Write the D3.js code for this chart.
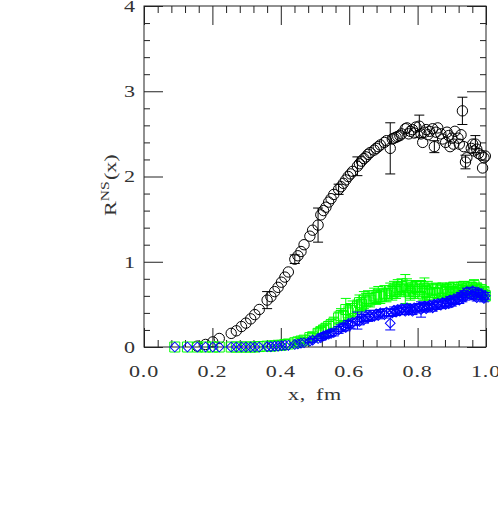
<!DOCTYPE html>
<html><head><meta charset="utf-8">
<script src="https://cdn.jsdelivr.net/npm/d3@7"></script>
<style>html,body{margin:0;padding:0;background:#fff;} svg{display:block;}</style>
</head><body>
<svg id="c" width="498" height="527"></svg>
<script>
// ---------- data ----------
const xMajorTicks = [0.0, 0.2, 0.4, 0.6, 0.8, 1.0];
const xTickLabels = ["0.0", "0.2", "0.4", "0.6", "0.8", "1.0"];
const xMinorTicks = [0.04,0.08,0.12,0.16,0.24,0.28,0.32,0.36,0.44,0.48,0.52,0.56,0.64,0.68,0.72,0.76,0.84,0.88,0.92,0.96];
const yMajorTicks = [0, 1, 2, 3, 4];
const yTickLabels = ["0", "1", "2", "3", "4"];
const yMinorTicks = [0.2,0.4,0.6,0.8,1.2,1.4,1.6,1.8,2.2,2.4,2.6,2.8,3.2,3.4,3.6,3.8];

const distX = [0.090,0.127,0.156,0.180,0.201,0.220,0.255,0.270,0.285,0.298,0.312,0.324,0.337,0.360,0.371,0.382,0.392,0.402,0.412,0.422,
  0.441,0.450,0.459,0.468,0.485,0.493,0.509,0.517,0.525,0.532,0.540,0.547,0.555,0.569,0.576,0.583,0.590,0.597,0.604,0.610,
  0.624,0.630,0.636,0.643,0.649,0.655,0.661,0.673,0.679,0.685,0.691,0.703,0.709,0.720,0.726,0.731,0.737,0.742,0.748,0.753,
  0.764,0.769,0.774,0.779,0.785,0.790,0.795,0.805,0.810,0.815,0.820,0.825,0.830,0.835,0.844,0.849,0.854,0.859,0.868,0.873,
  0.882,0.886,0.891,0.895,0.900,0.905,0.909,0.918,0.922,0.927,0.931,0.935,0.940,0.944,0.957,0.961,0.965,0.969,0.973,0.978,
  0.986,0.990,0.994,0.998];

const blackX = distX.slice(2);
const blackY = [0.01,0.03,0.06,0.10,0.16,0.19,0.24,0.28,0.33,0.38,0.44,0.55,0.59,0.65,0.70,0.76,0.82,0.88,
  1.03,1.07,1.12,1.20,1.30,1.37,1.43,1.55,1.60,1.64,1.70,1.74,1.79,1.85,1.88,1.92,1.96,2.00,2.03,2.06,
  2.12,2.15,2.18,2.21,2.23,2.26,2.28,2.31,2.33,2.35,2.37,2.40,2.42,2.33,2.44,2.45,2.46,2.47,2.48,2.50,
  2.56,2.57,2.50,2.53,2.55,2.51,2.58,2.59,2.50,2.40,2.52,2.55,2.49,2.53,2.56,2.35,2.52,2.57,2.50,2.44,
  2.40,2.52,2.48,2.35,2.45,2.38,2.53,2.45,2.38,2.49,2.77,2.35,2.17,2.22,2.33,2.38,2.30,2.38,2.32,2.27,
  2.25,2.10,2.22,2.24];
const blackErr = [0,0,0,0,0,0,0,0,0,0,0,0.10,0,0,0,0,0,0,
  0.05,0,0,0,0,0,0.20,0,0,0,0,0,0,0.06,0,0,0,0,0,0,
  0.11,0,0,0,0,0,0,0,0,0,0,0,0,0.30,0,0,0,0,0,0,
  0,0,0,0,0,0,0,0.13,0,0,0,0,0,0,0,0.07,0,0,0,0,
  0,0,0,0,0,0,0,0,0,0,0.16,0,0.08,0,0,0,0,0.10,0,0,
  0,0,0,0];

const greenX = distX;
const greenY = [0,0,0,0,0,0,0,0,0,0,0,0,0.005,0.01,0.01,0.015,0.02,0.02,0.03,0.035,
  0.05,0.06,0.07,0.08,0.11,0.12,0.16,0.18,0.20,0.22,0.24,0.26,0.28,0.34,0.37,0.36,0.44,0.40,0.43,0.45,
  0.47,0.52,0.50,0.55,0.53,0.57,0.55,0.60,0.58,0.62,0.59,0.63,0.61,0.66,0.63,0.68,0.65,0.70,0.67,0.71,
  0.68,0.72,0.66,0.63,0.69,0.65,0.71,0.67,0.71,0.63,0.68,0.65,0.69,0.62,0.67,0.64,0.68,0.63,0.66,0.69,
  0.64,0.67,0.62,0.68,0.65,0.70,0.63,0.67,0.64,0.69,0.66,0.71,0.65,0.68,0.70,0.66,0.72,0.67,0.69,0.64,
  0.67,0.62,0.65,0.60];
const greenErr = [0,0,0,0,0,0,0,0,0,0,0,0,0,0,0,0,0,0,0,0,
  0.02,0.02,0.03,0.03,0.03,0.04,0.04,0.05,0.05,0.05,0.06,0.06,0.07,0.07,0.08,0.07,0.13,0.08,0.08,0.09,
  0.08,0.09,0.08,0.10,0.10,0.09,0.08,0.09,0.08,0.09,0.08,0.09,0.08,0.09,0.08,0.09,0.08,0.09,0.08,0.09,
  0.17,0.08,0.07,0.08,0.07,0.08,0.07,0.08,0.07,0.08,0.13,0.07,0.08,0.07,0.07,0.06,0.07,0.06,0.07,0.06,
  0.07,0.06,0.06,0.07,0.06,0.06,0.07,0.06,0.06,0.07,0.06,0.06,0.07,0.06,0.06,0.06,0.07,0.06,0.06,0.06,
  0.06,0.06,0.05,0.06];

const blueX = distX;
const blueY = [0,0,0,0,0,0,0,0,0,0,0,0,0,0.005,0.005,0.01,0.01,0.015,0.02,0.02,
  0.03,0.035,0.045,0.05,0.07,0.08,0.10,0.11,0.13,0.14,0.15,0.16,0.17,0.20,0.22,0.24,0.23,0.27,0.26,0.29,
  0.31,0.30,0.34,0.32,0.36,0.34,0.37,0.36,0.39,0.37,0.40,0.38,0.41,0.28,0.40,0.43,0.41,0.44,0.42,0.45,
  0.42,0.46,0.43,0.45,0.42,0.46,0.44,0.47,0.44,0.46,0.48,0.45,0.47,0.49,0.46,0.50,0.48,0.51,0.49,0.52,
  0.50,0.53,0.51,0.55,0.52,0.56,0.54,0.58,0.55,0.60,0.57,0.62,0.59,0.65,0.61,0.66,0.60,0.63,0.58,0.64,
  0.62,0.60,0.57,0.60];
const blueErr = [0,0,0,0,0,0,0,0,0,0,0,0,0,0,0,0,0,0,0,0,
  0,0,0,0,0.02,0.02,0.02,0.03,0.03,0.03,0.03,0.03,0.04,0.04,0.04,0.04,0.04,0.04,0.04,0.04,
  0.10,0.04,0.04,0.04,0.05,0.04,0.06,0.04,0.04,0.04,0.04,0.04,0.04,0.08,0.04,0.04,0.04,0.04,0.04,0.04,
  0.04,0.04,0.04,0.04,0.04,0.04,0.04,0.04,0.09,0.04,0.04,0.04,0.04,0.04,0.04,0.04,0.04,0.04,0.04,0.04,
  0.04,0.04,0.04,0.04,0.04,0.04,0.04,0.04,0.04,0.04,0.04,0.04,0.04,0.04,0.04,0.04,0.04,0.04,0.04,0.04,
  0.04,0.04,0.04,0.04];

// ---------- layout ----------
const W = 498, H = 527;
const L = 144, R = 486, T = 6, B = 347;
const FONT = "'Liberation Serif', 'Times New Roman', serif";
const SX = 1.3; // horizontal stretch of the plotting font
const TXT = "#333";

const svg = d3.select("#c");
svg.append("rect").attr("width", W).attr("height", H).attr("fill", "#fff");

const x = d3.scaleLinear().domain([0, 1]).range([L, R]);
const y = d3.scaleLinear().domain([0, 4]).range([B, T]);

const axisColor = "#222";
function styleAxis(g) {
  g.select(".domain").remove();
  g.selectAll(".tick line").attr("stroke", axisColor).attr("stroke-width", 1);
  g.selectAll(".tick text").remove();
}
// inward ticks on all four sides
svg.append("g").attr("transform", `translate(0,${B})`)
  .call(d3.axisBottom(x).tickValues(xMajorTicks).tickSize(-19)).call(styleAxis);
svg.append("g").attr("transform", `translate(0,${B})`)
  .call(d3.axisBottom(x).tickValues(xMinorTicks).tickSize(-7)).call(styleAxis);
svg.append("g").attr("transform", `translate(0,${T})`)
  .call(d3.axisTop(x).tickValues(xMajorTicks).tickSize(-19)).call(styleAxis);
svg.append("g").attr("transform", `translate(0,${T})`)
  .call(d3.axisTop(x).tickValues(xMinorTicks).tickSize(-7)).call(styleAxis);
svg.append("g").attr("transform", `translate(${L},0)`)
  .call(d3.axisLeft(y).tickValues(yMajorTicks).tickSize(-19)).call(styleAxis);
svg.append("g").attr("transform", `translate(${L},0)`)
  .call(d3.axisLeft(y).tickValues(yMinorTicks).tickSize(-6)).call(styleAxis);
svg.append("g").attr("transform", `translate(${R},0)`)
  .call(d3.axisRight(y).tickValues(yMajorTicks).tickSize(-19)).call(styleAxis);
svg.append("g").attr("transform", `translate(${R},0)`)
  .call(d3.axisRight(y).tickValues(yMinorTicks).tickSize(-6)).call(styleAxis);

svg.append("rect").attr("x", L).attr("y", T).attr("width", R - L).attr("height", B - T)
  .attr("fill", "none").attr("stroke", axisColor).attr("stroke-width", 1);

// tick labels (stretched serif to mimic the plotting font)
svg.append("g").selectAll("text").data(xMajorTicks).join("text")
  .attr("transform", d => `translate(${x(d)},377) scale(${SX},1)`)
  .attr("text-anchor", "middle").attr("font-family", FONT).attr("font-size", 17)
  .attr("letter-spacing", "0.6px").attr("fill", TXT)
  .text((d, i) => xTickLabels[i]);
svg.append("g").selectAll("text").data(yMajorTicks).join("text")
  .attr("transform", d => `translate(135,${y(d) + 5.8}) scale(${SX},1)`)
  .attr("text-anchor", "end").attr("font-family", FONT).attr("font-size", 17).attr("fill", TXT)
  .text((d, i) => yTickLabels[i]);

// axis titles
svg.append("text").attr("transform", `translate(315,400) scale(${SX},1)`).attr("text-anchor", "middle")
  .attr("font-family", FONT).attr("font-size", 17).attr("letter-spacing", "0.5px")
  .attr("word-spacing", "3px").attr("fill", TXT).text("x, fm");

const yl = svg.append("text").attr("transform", `translate(116,216) rotate(-90) scale(${SX},1)`)
  .attr("font-family", FONT).attr("font-size", 17).attr("fill", TXT);
yl.append("tspan").text("R");
yl.append("tspan").attr("dy", -7).attr("font-size", 12).text("NS");
yl.append("tspan").attr("dy", 7).attr("dx", 1).text("(x)");

// ---------- series ----------
function drawSeries(xs, ys, es, color, shape) {
  const data = xs.map((v, i) => ({x: v, y: ys[i], e: es[i]}));
  const g = svg.append("g").attr("fill", "none").attr("stroke", color).attr("stroke-width", 1);
  const eb = data.filter(d => d.e > 0);
  g.selectAll("path.err").data(eb).join("path").attr("class", "err")
    .attr("d", d => {
      const cx = x(d.x), y1 = y(d.y - d.e), y2 = y(d.y + d.e);
      return `M${cx},${y1}V${y2}M${cx - 5},${y1}H${cx + 5}M${cx - 5},${y2}H${cx + 5}`;
    });
  const sym = d3.symbol().type(shape.type).size(shape.size);
  g.selectAll("path.m").data(data).join("path").attr("class", "m")
    .attr("transform", d => `translate(${x(d.x)},${y(d.y)})` + (shape.rot ? ` rotate(${shape.rot})` : ""))
    .attr("d", sym());
}
drawSeries(blackX, blackY, blackErr, "#000", {type: d3.symbolCircle, size: Math.PI * 27});
drawSeries(greenX, greenY, greenErr, "#00ff00", {type: d3.symbolSquare, size: 100});
drawSeries(blueX, blueY, blueErr, "#0000ff", {type: d3.symbolSquare, size: 48, rot: 45});
</script>
</body></html>
